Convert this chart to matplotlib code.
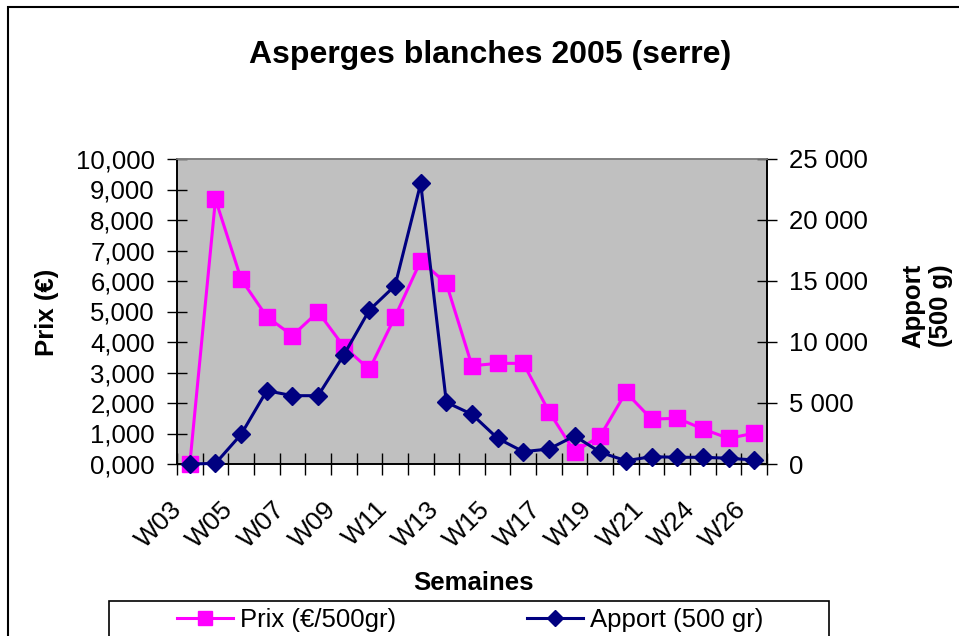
import numpy as np
import matplotlib.pyplot as plt
from matplotlib.patches import Rectangle
from matplotlib.lines import Line2D
from matplotlib.ticker import FuncFormatter, NullFormatter
from matplotlib.transforms import ScaledTranslation

plt.rcParams['font.family'] = ['Liberation Sans', 'DejaVu Sans']

weeks = ["W03", "W04", "W05", "W06", "W07", "W08", "W09", "W10", "W11", "W12",
         "W13", "W14", "W15", "W16", "W17", "W18", "W19", "W20", "W21", "W22",
         "W24", "W25", "W26"]
prix = [0.0, 8.68, 6.06, 4.83, 4.21, 4.99, 3.85, 3.10, 4.83, 6.66, 5.92, 3.22,
        3.30, 3.30, 1.72, 0.40, 0.92, 2.35, 1.47, 1.50, 1.15, 0.84, 1.01]
apport = [0, 50, 2430, 6010, 5600, 5600, 8930, 12620, 14620, 23000, 5060, 4070,
          2100, 1010, 1230, 2300, 960, 270, 600, 550, 550, 470, 330]

PINK = "#FF00FF"
NAVY = "#000080"
FS = 18.5

fig = plt.figure(figsize=(9.59, 6.36), dpi=100)
W, H = 959, 636
ax = fig.add_axes([177 / W, 1 - 464 / H, 590 / W, 305 / H])
ax2 = ax.twinx()

x = np.arange(len(weeks))
ax.plot(x, prix, color=PINK, lw=2.2, marker="s", ms=11, mec=PINK,
        clip_on=False, zorder=3)
ax2.plot(x, apport, color=NAVY, lw=2.2, marker="D", ms=9, clip_on=False,
         zorder=3)

ax.set_facecolor("#C0C0C0")
ax.set_xlim(-0.5, len(weeks) - 0.5)
ax.set_ylim(0, 10)
ax2.set_ylim(0, 25000)
ax.set_yticks(np.arange(0, 11, 1))
ax.yaxis.set_major_formatter(FuncFormatter(lambda v, p: f"{v:.3f}".replace(".", ",")))
ax2.set_yticks(np.arange(0, 25001, 5000))
ax2.yaxis.set_major_formatter(FuncFormatter(lambda v, p: f"{int(v):,}".replace(",", " ")))

# category ticks at the boundaries, labels every other week (drawn as text)
ax.set_xticks(np.arange(-0.5, len(weeks), 1))
ax.xaxis.set_major_formatter(NullFormatter())
ax.tick_params(axis="x", length=16, direction="inout", width=1)
off = ax.get_xaxis_transform() + ScaledTranslation(-20 / 100, -33 / 100, fig.dpi_scale_trans)
for i in range(0, len(weeks), 2):
    ax.text(x[i], 0, weeks[i], transform=off, rotation=45, ha="right", va="top",
            rotation_mode="anchor", fontsize=19)

ax.tick_params(axis="y", labelsize=FS, length=14, direction="inout", width=1, pad=9)
ax2.tick_params(axis="y", labelsize=FS, length=14, direction="inout", width=1, pad=9)

for a in (ax, ax2):
    for s in a.spines.values():
        s.set_color("black")
        s.set_linewidth(1.2)
ax.spines["top"].set_color("#808080")
ax2.spines["top"].set_color("#808080")

fig.text(47 / W, 1 - 312 / H, "Prix (€)", fontsize=FS, fontweight="bold",
         rotation=90, ha="center", va="center")
fig.text(927 / W, 1 - 306 / H, "Apport\n(500 g)", fontsize=FS, fontweight="bold",
         rotation=90, ha="center", va="center", linespacing=1.2)
fig.text(473 / W, 1 - 583 / H, "Semaines", fontsize=FS, fontweight="bold",
         ha="center", va="center")
fig.text(490 / W, 1 - 55 / H, "Asperges blanches 2005 (serre)", fontsize=23,
         fontweight="bold", ha="center", va="center")

# outer chart frame and legend frame (both run past the bottom edge)
fig.patches.append(Rectangle((8 / W, -0.1), 1.2, 1 - 7 / H + 0.1,
                             transform=fig.transFigure, fill=False,
                             edgecolor="black", lw=1.5))
fig.patches.append(Rectangle((109 / W, -0.1), 720 / W, 1 - 601 / H + 0.1,
                             transform=fig.transFigure, fill=False,
                             edgecolor="black", lw=1.2))

handles = [Line2D([], [], color=PINK, lw=2.2, marker="s", ms=10),
           Line2D([], [], color=NAVY, lw=2.2, marker="D", ms=8.5)]
leg = fig.legend(handles, ["Prix (€/500gr)", "Apport (500 gr)"], ncol=2,
                 loc="center", bbox_to_anchor=(470 / W, 1 - 620 / H),
                 fontsize=FS, frameon=False, handlelength=2.2,
                 handletextpad=0.25, columnspacing=5.1, borderaxespad=0)

fig.savefig("out.png", dpi=100)
